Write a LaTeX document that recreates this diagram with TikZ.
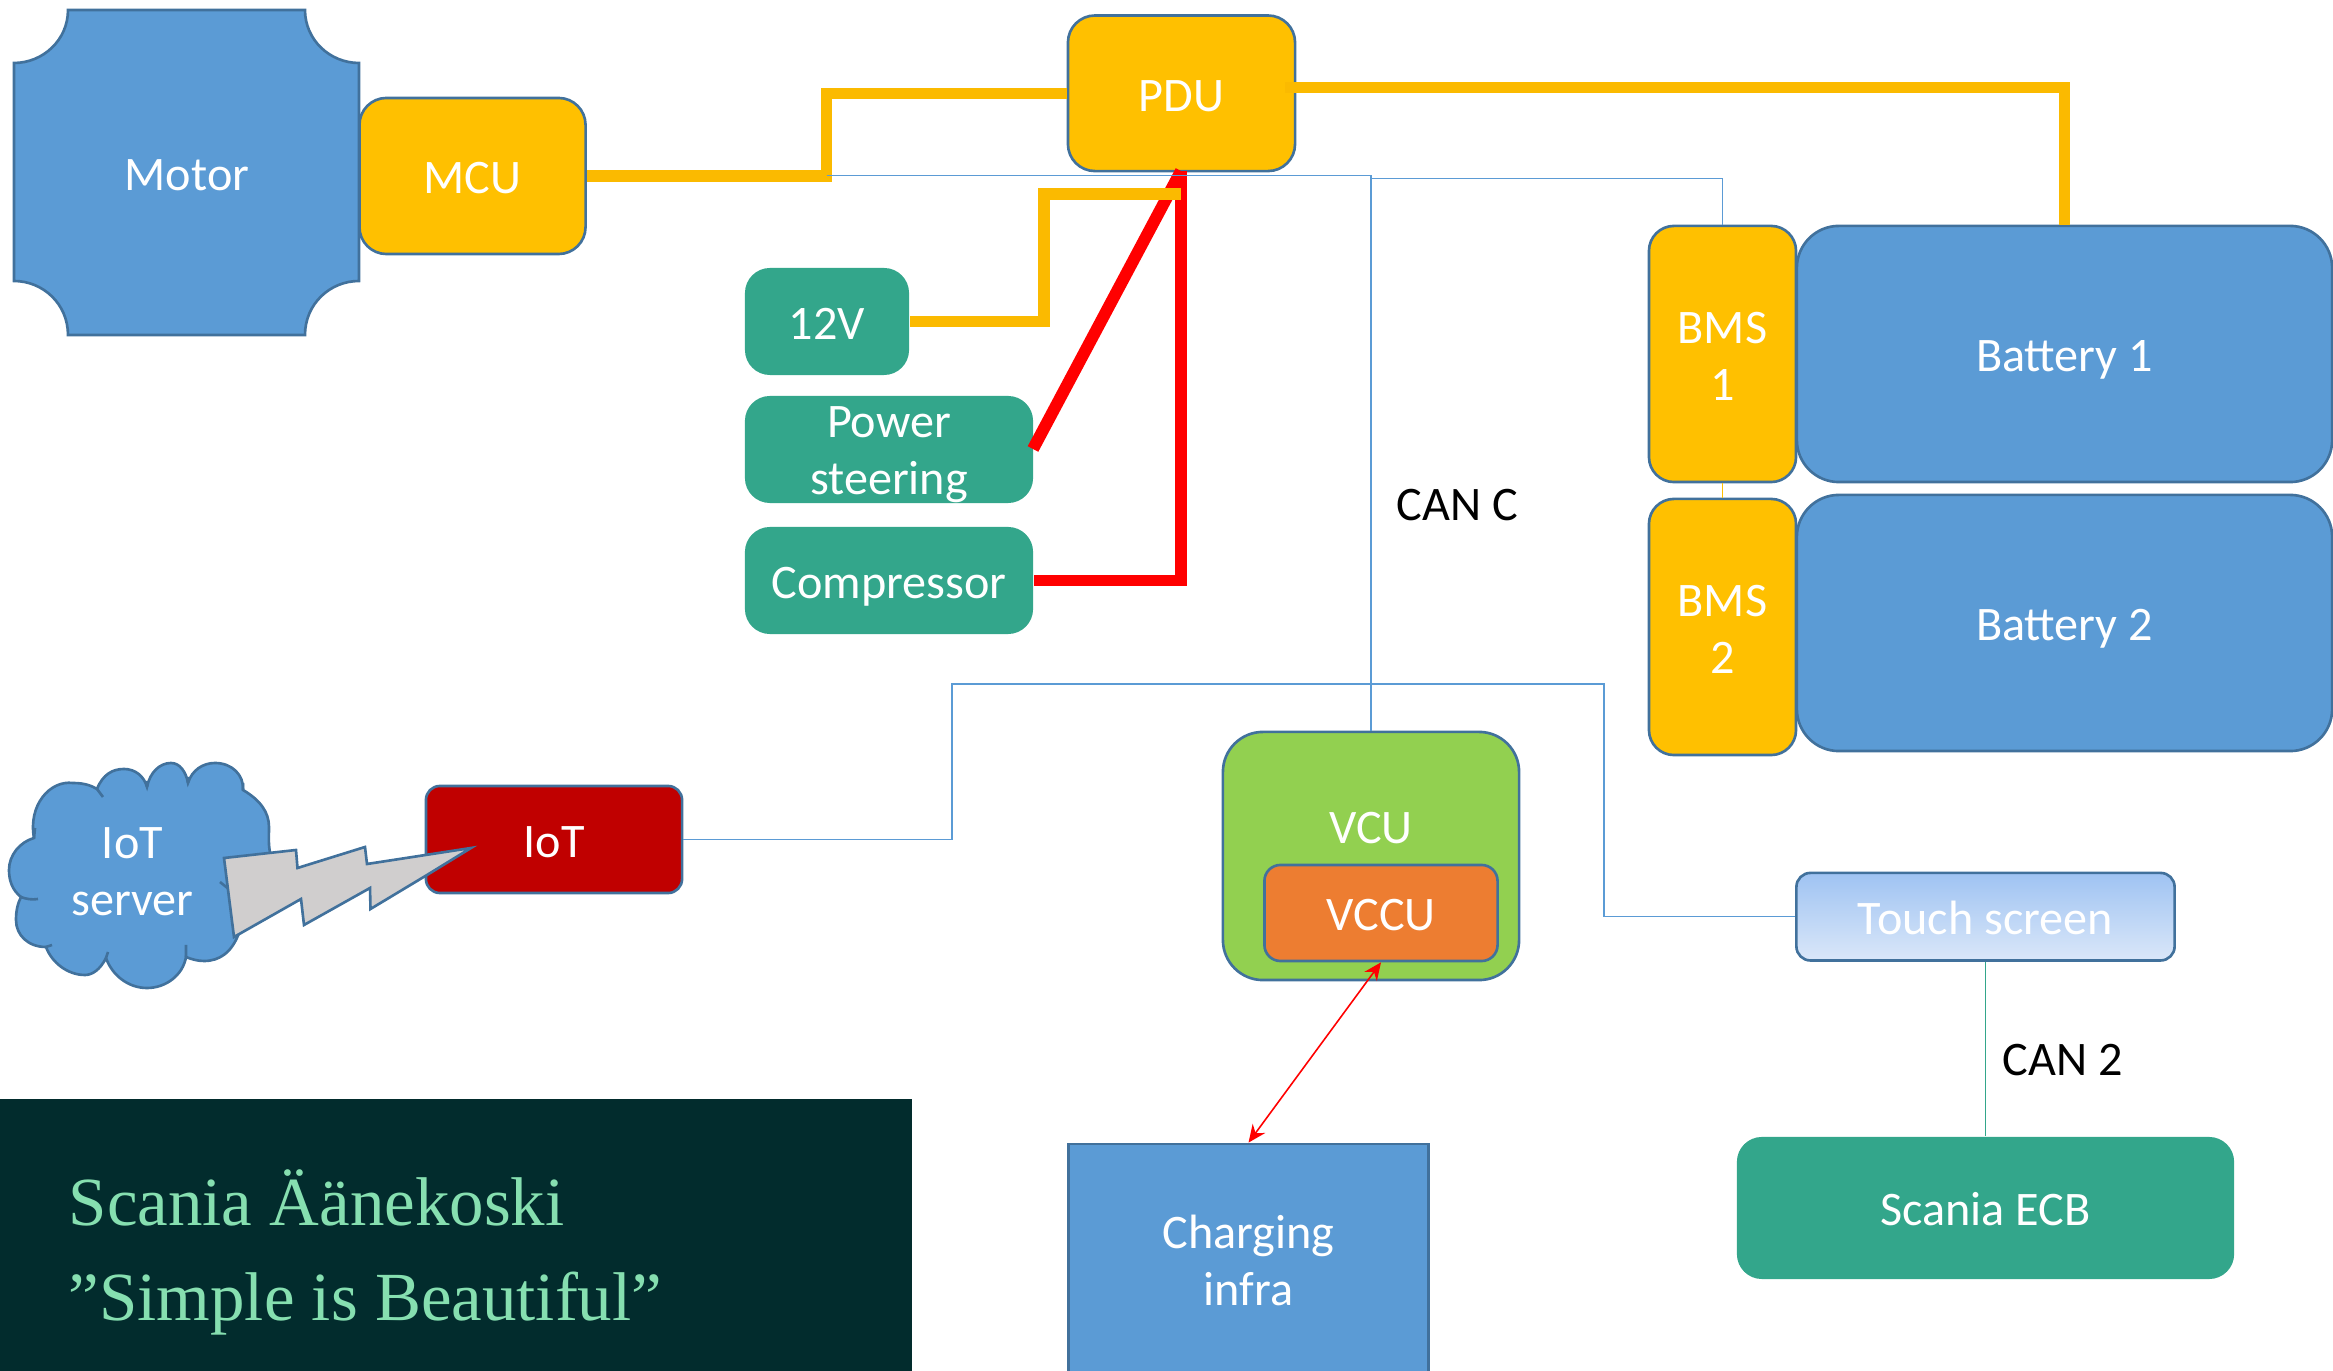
\documentclass[tikz,border=0pt]{standalone}
\usepackage{fontspec}
\setmainfont{Carlito}
\newfontfamily\titlefont{Liberation Serif}
\usetikzlibrary{arrows.meta}
\definecolor{boxblue}{HTML}{5B9BD5}
\definecolor{boxedge}{HTML}{41719C}
\definecolor{amber}{HTML}{FFC000}
\definecolor{amberline}{HTML}{FBBA00}
\definecolor{boxteal}{HTML}{33A68B}
\definecolor{boxgreen}{HTML}{92D050}
\definecolor{boxorange}{HTML}{ED7D31}
\definecolor{boxred}{HTML}{C00000}
\definecolor{boltgrey}{HTML}{D0CECE}
\definecolor{darkpanel}{HTML}{022C2D}
\definecolor{panelgreen}{HTML}{86DFB0}
\definecolor{touchtop}{HTML}{9FC3F2}
\definecolor{touchbottom}{HTML}{DAE7F9}
\begin{document}
\begin{tikzpicture}[x=0.01cm,y=-0.01cm]
        \useasboundingbox (0,0) rectangle (2333,1371);
        \clip (0,0) rectangle (2333,1371);
        \begin{scope}
            \tikzset{ubox/.style = {
                rectangle,
                draw=boxedge,
                line width=0.75pt,
                text=white,
                inner sep=0pt,
                align=center,
                font=\fontsize{13.7}{16.2}\selectfont } }
            \tikzset{oneline/.style = {
                text height=10.1pt,
                text depth=0pt} }
            \tikzset{flatbox/.style = {
                ubox,
                draw=none,
                fill=boxteal,
                rounded corners=0.25cm } }
            \tikzset{hvline/.style = {
                draw=amberline,
                line width=3.2pt} }
            \tikzset{loadline/.style = {
                draw=red,
                line width=3.4pt} }
            \tikzset{canline/.style = {
                draw=boxblue,
                line width=0.45pt} }
            \tikzset{tag/.style = {
                font=\fontsize{13.7}{16.2}\selectfont,
                align=center,
                inner sep=0pt} }
            \tikzset{paneltext/.style = {
                anchor=base west,
                inner sep=0pt,
                text=panelgreen,
                font=\titlefont\fontsize{19.6}{24}\selectfont} }
                % motor outline comes from a plain path
                \path[fill=boxblue, draw=boxedge, line width=0.75pt]
                    (68,10) -- (305,10) .. controls (305,40) and (330,63) .. (359,63)
                    -- (359,281) .. controls (330,281) and (305,304) .. (305,335)
                    -- (68,335) .. controls (68,304) and (43,281) .. (14,281)
                    -- (14,63) .. controls (43,63) and (68,40) .. (68,10) -- cycle;
                \node[tag, text=white] (motor) at (187,175.5) {Motor};
                \node[ubox, oneline, fill=amber, rounded corners=0.27cm, minimum width=2.26cm, minimum height=1.56cm] (mcu) at (472.5,176) {MCU};
                \node[ubox, oneline, fill=amber, rounded corners=0.27cm, minimum width=2.27cm, minimum height=1.555cm] (pdu) at (1181.5,93.3) {PDU};
                \node[flatbox, oneline, minimum width=1.64cm, minimum height=1.07cm] (lowv) at (827,321.5) {12V};
                \node[flatbox, minimum width=2.88cm, minimum height=1.07cm] (steer) at (889,449.5) {};
                \node[tag, text=white] (steertext) at (889,455) {Power\\steering};
                \node[flatbox, oneline, minimum width=2.88cm, minimum height=1.07cm] (comp) at (889,580.5) {Compressor};
                \foreach \x/\yb/\yc in {1/354/354,2/623/627}{
                    \node[ubox, oneline, fill=boxblue, rounded corners=0.42cm, minimum width=5.35cm, minimum height=2.56cm] (bat\x) at (2064.5,\yb) {Battery \x};
                    \node[ubox, fill=amber, rounded corners=0.25cm, minimum width=1.47cm, minimum height=2.56cm] (bms\x) at (1722.5,\yc) {};
                    \node[tag, text=white] (bmstext\x) at (1722.5,\yc+2.5) {BMS\\\x};
                }
                \node[ubox, fill=boxgreen, rounded corners=0.4cm, minimum width=2.96cm, minimum height=2.48cm] (vcu) at (1371,856) {};
                \node[tag, text=white] (vcutext) at (1371,828) {VCU};
                \node[ubox, oneline, fill=boxorange, rounded corners=0.16cm, minimum width=2.33cm, minimum height=0.96cm] (vccu) at (1381,913) {VCCU};
                \node[ubox, fill=boxblue, minimum width=3.6cm, minimum height=2.32cm] (chg) at (1248.5,1260) {Charging\\infra};
                \node[ubox, oneline, top color=touchtop, bottom color=touchbottom, rounded corners=0.14cm, minimum width=3.78cm, minimum height=0.875cm] (touch) at (1985.5,916.7) {Touch screen};
                \node[flatbox, oneline, minimum width=4.97cm, minimum height=1.42cm] (ecb) at (1985.5,1208) {Scania ECB};
                \node[ubox, oneline, fill=boxred, rounded corners=0.14cm, minimum width=2.56cm, minimum height=1.07cm] (iot) at (554,839.5) {IoT};
                % power lines
                \draw[hvline] (mcu.east) -- (826.5,176) -- (826.5,93.3) -- (pdu.west);
                \coordinate (pduout) at (1285,87.5);
                \draw[hvline] (pduout) -- (2064.5,87.5) -- (bat1.north);
                \draw[loadline] (comp.east) -- (1181,580.5) -- (1181,171);
                \draw[loadline] (1033,449) -- (1181,171);
                \coordinate (lowvin) at (1181,194);
                \draw[hvline] (lowv.east) -- (1044,321.5) -- (1044,194) -- (lowvin);
                % can lines
                \coordinate (canstart) at (826.5,175.5);
                \draw[canline] (canstart) -- (1371,175.5) -- (vcu.north);
                \draw[canline] (1371,178.5) -- (1722.5,178.5) -- (bms1.north);
                \draw[canline] (iot.east) -- (952,839.5) -- (952,684) -- (1604,684) -- (1604,916.7) -- (touch.west);
                \draw[draw=amber, line width=0.45pt] (bms1.south) -- (bms2.north);
                \draw[draw=boxteal, line width=0.55pt] (touch.south) -- (ecb.north);
                \draw[red, line width=0.45pt, {Stealth[length=5pt,width=4.4pt]}-{Stealth[length=5pt,width=4.4pt]}] (vccu.south) -- (chg.north);
                % cloud and bolt
                \draw[fill=boxblue, draw=boxedge, line width=0.75pt]
                    (34,838) .. controls (28,805) and (50,780) .. (73,783)
                    .. controls (85,783) and (92,786) .. (97,789)
                    .. controls (103,774) and (113,769) .. (124,769)
                    .. controls (135,769) and (144,776) .. (147,787)
                    .. controls (150,772) and (160,763) .. (171,763)
                    .. controls (180,763) and (186,772) .. (188,783)
                    .. controls (192,770) and (203,763) .. (215,763)
                    .. controls (232,763) and (244,775) .. (243,790)
                    .. controls (260,800) and (269,812) .. (269,827)
                    .. controls (269,838) and (268,845) .. (271,857)
                    -- (239,933) .. controls (232,952) and (220,961) .. (204,961)
                    .. controls (197,961) and (191,959) .. (186,957)
                    .. controls (183,975) and (166,988) .. (147,988)
                    .. controls (128,988) and (112,975) .. (106,958)
                    .. controls (100,970) and (92,975) .. (85,975)
                    .. controls (68,975) and (52,963) .. (46,947)
                    .. controls (28,947) and (16,935) .. (16,920)
                    .. controls (16,910) and (18,903) .. (21,897)
                    .. controls (12,890) and (9,880) .. (9,870)
                    .. controls (9,855) and (20,842) .. (34,838) -- cycle;
                \draw[draw=boxedge, line width=0.75pt]
                    (97,789) -- (103,797)
                    (147,787) -- (147,781)
                    (188,783) -- (188,777)
                    (243,790) -- (243,783)
                    (186,957) -- (186,945)
                    (106,958) -- (108,952)
                    (46,947) -- (52,945)
                    (21,897) .. controls (26,899) and (32,900) .. (38,899)
                    (34,838) -- (35,828)
                    (220,882) -- (230,890);
                \node[tag, text=white] (cloudtext) at (132.5,871.5) {IoT\\server};
                \draw[fill=boltgrey, draw=boxedge, line width=0.75pt]
                    (224,858) -- (296,850) -- (297.5,868) -- (365,847) -- (367,864) -- (471,848) -- (427,875)
                    -- (370.5,909) -- (370,888) -- (304,925) -- (301,899) -- (234,937) -- cycle;
                % labels
                \node[tag, anchor=west] (canc) at (1396,505) {CAN C};
                \node[tag, anchor=west] (cantwo) at (2002,1060) {CAN 2};
                \fill[darkpanel] (0,1099) rectangle (912,1371);
                \node[paneltext] (titleone) at (68,1225.5) {Scania Äänekoski};
                \node[paneltext] (titletwo) at (68,1320.5) {”Simple is Beautiful”};
        \end{scope}
    \end{tikzpicture}
\end{document}
